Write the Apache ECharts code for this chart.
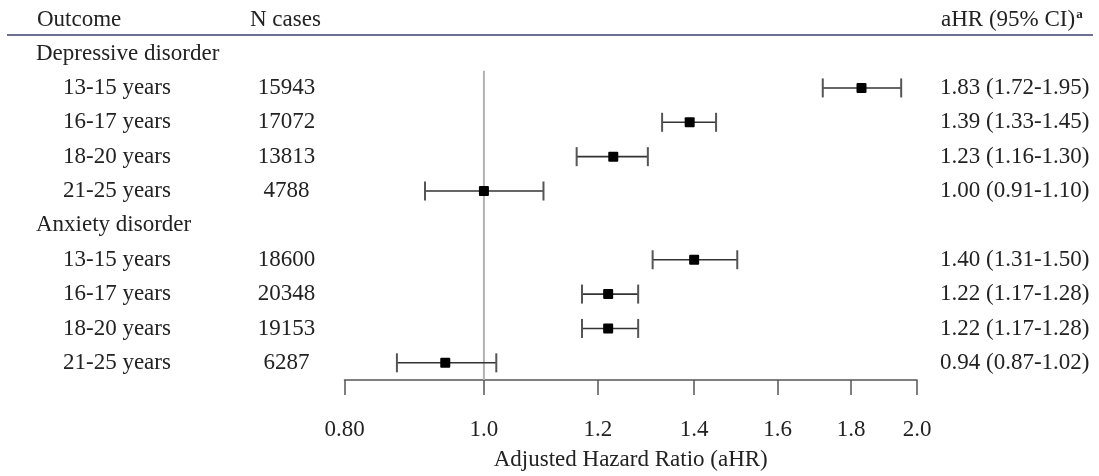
<!DOCTYPE html>
<html>
<head>
<meta charset="utf-8">
<script src="https://cdn.jsdelivr.net/npm/echarts@6/dist/echarts.min.js"></script>
<style>
html,body{margin:0;padding:0;background:#fff;}
#chart{width:1099px;height:476px;}
</style>
</head>
<body>
<div id="chart"></div>
<script>
// ---- data ----
const groups = ['Depressive disorder', 'Anxiety disorder'];
const ageBands = ['13-15 years', '16-17 years', '18-20 years', '21-25 years'];
const depN = [15943, 17072, 13813, 4788];
const depHR = [1.83, 1.39, 1.23, 1.00];
const depLo = [1.72, 1.33, 1.16, 0.91];
const depHi = [1.95, 1.45, 1.30, 1.10];
const anxN = [18600, 20348, 19153, 6287];
const anxHR = [1.40, 1.22, 1.22, 0.94];
const anxLo = [1.31, 1.17, 1.17, 0.87];
const anxHi = [1.50, 1.28, 1.28, 1.02];
const xTicks = [0.8, 1.0, 1.2, 1.4, 1.6, 1.8, 2.0];
const xTickLabels = ['0.80', '1.0', '1.2', '1.4', '1.6', '1.8', '2.0'];
const refValue = 1.0;

// ---- build rows ----
const rowLabels = [], rowIsGroup = [], rowN = [], rowText = [], points = [];
function fmt(v){ return v.toFixed(2); }
[[depN, depHR, depLo, depHi], [anxN, anxHR, anxLo, anxHi]].forEach((g, gi) => {
  rowLabels.push(groups[gi]); rowIsGroup.push(true); rowN.push(''); rowText.push('');
  ageBands.forEach((a, i) => {
    const idx = rowLabels.length;
    rowLabels.push(a); rowIsGroup.push(false); rowN.push(String(g[0][i]));
    rowText.push(fmt(g[1][i]) + ' (' + fmt(g[2][i]) + '-' + fmt(g[3][i]) + ')');
    points.push([g[1][i], idx, g[2][i], g[3][i]]);
  });
});

const FONT = 'Liberation Serif';
const TXT = '#222';
const FS = 23;

const chart = echarts.init(document.getElementById('chart'));
const gridLeft = 344.5, gridRight = 182, gridTop = 36.4, gridH = 344;

const option = {
  animation: false,
  backgroundColor: '#fff',
  textStyle: { fontFamily: FONT },
  grid: { left: gridLeft, right: gridRight, top: gridTop, height: gridH, containLabel: false },
  xAxis: {
    type: 'log', logBase: Math.E, min: 0.8, max: 2.0,
    axisLine: { show: true, lineStyle: { color: '#555', width: 1.5 } },
    axisTick: { show: true, length: 15, customValues: xTicks, lineStyle: { color: '#555', width: 1.5 } },
    axisLabel: {
      show: true, customValues: xTicks, margin: 38,
      fontFamily: FONT, fontSize: FS, color: TXT,
      formatter: function (v) {
        for (let i = 0; i < xTicks.length; i++) if (Math.abs(v - xTicks[i]) < 1e-6) return xTickLabels[i];
        return '';
      }
    },
    splitLine: { show: false },
    minorTick: { show: false },
    name: 'Adjusted Hazard Ratio (aHR)', nameLocation: 'middle', nameGap: 68,
    nameTextStyle: { fontFamily: FONT, fontSize: FS, color: TXT }
  },
  yAxis: [
    {
      type: 'category', inverse: true, data: rowLabels, position: 'left',
      axisLine: { show: false }, axisTick: { show: false }, splitLine: { show: false },
      axisLabel: {
        margin: gridLeft - 36, align: 'left', fontFamily: FONT, fontSize: FS, color: TXT,
        formatter: function (v, i) { return rowIsGroup[i] ? '{g|' + v + '}' : '{s|' + v + '}'; },
        rich: {
          g: { fontFamily: FONT, fontSize: FS, color: TXT },
          s: { fontFamily: FONT, fontSize: FS, color: TXT, padding: [0, 0, 0, 27] }
        }
      }
    },
    {
      type: 'category', inverse: true, data: rowN, position: 'left',
      axisLine: { show: false }, axisTick: { show: false }, splitLine: { show: false },
      axisLabel: { margin: gridLeft - 286.5, align: 'center', fontFamily: FONT, fontSize: FS, color: TXT }
    },
    {
      type: 'category', inverse: true, data: rowText, position: 'right',
      axisLine: { show: false }, axisTick: { show: false }, splitLine: { show: false },
      axisLabel: { margin: 940 - (1099 - gridRight), align: 'left', fontFamily: FONT, fontSize: FS, color: TXT }
    }
  ],
  graphic: [
    { type: 'text', left: 37, top: 8, style: { text: 'Outcome', font: FS + 'px "' + FONT + '"', fill: TXT } },
    { type: 'text', left: 250, top: 8, style: { text: 'N cases', font: FS + 'px "' + FONT + '"', fill: TXT } },
    { type: 'text', left: 941, top: 8, style: {
        text: 'aHR (95% CI){sup|a}', font: FS + 'px "' + FONT + '"', fill: TXT,
        rich: { sup: { fontSize: 13, fontWeight: 'bold', verticalAlign: 'top', padding: [0, 0, 10, 1], fill: TXT, fontFamily: FONT } }
      } },
    { type: 'line', shape: { x1: 7, y1: 35, x2: 1093, y2: 35 }, style: { stroke: '#6c7191', lineWidth: 2 } }
  ],
  series: [
    {
      type: 'custom', name: 'ref', xAxisIndex: 0, yAxisIndex: 0, silent: true, z: 1,
      data: [[refValue]],
      encode: { x: 0 },
      renderItem: function (params, api) {
        const top = api.coord([refValue, 1]);
        const bot = api.coord([refValue, rowLabels.length - 1]);
        const band = api.size([0, 1])[1];
        return {
          type: 'line',
          shape: { x1: top[0], y1: top[1] - band / 2, x2: bot[0], y2: bot[1] + band / 2 },
          style: { stroke: '#b3b3b3', lineWidth: 2 }
        };
      }
    },
    {
      type: 'custom', name: 'ci', xAxisIndex: 0, yAxisIndex: 0, z: 3,
      data: points,
      encode: { x: [0, 2, 3], y: 1 },
      renderItem: function (params, api) {
        const y = api.value(1);
        const c = api.coord([api.value(0), y]);
        const lo = api.coord([api.value(2), y]);
        const hi = api.coord([api.value(3), y]);
        const ch = 9.5, s = 10;
        const st = { stroke: '#333', lineWidth: 1.6 };
        return {
          type: 'group',
          children: [
            { type: 'line', shape: { x1: lo[0], y1: c[1], x2: hi[0], y2: c[1] }, style: st },
            { type: 'line', shape: { x1: lo[0], y1: c[1] - ch, x2: lo[0], y2: c[1] + ch }, style: { stroke: '#555', lineWidth: 2 } },
            { type: 'line', shape: { x1: hi[0], y1: c[1] - ch, x2: hi[0], y2: c[1] + ch }, style: { stroke: '#555', lineWidth: 2 } },
            { type: 'rect', shape: { x: c[0] - s / 2, y: c[1] - s / 2, width: s, height: s, r: 1 }, style: { fill: '#000' } }
          ]
        };
      }
    }
  ]
};
chart.setOption(option);
</script>
</body>
</html>
